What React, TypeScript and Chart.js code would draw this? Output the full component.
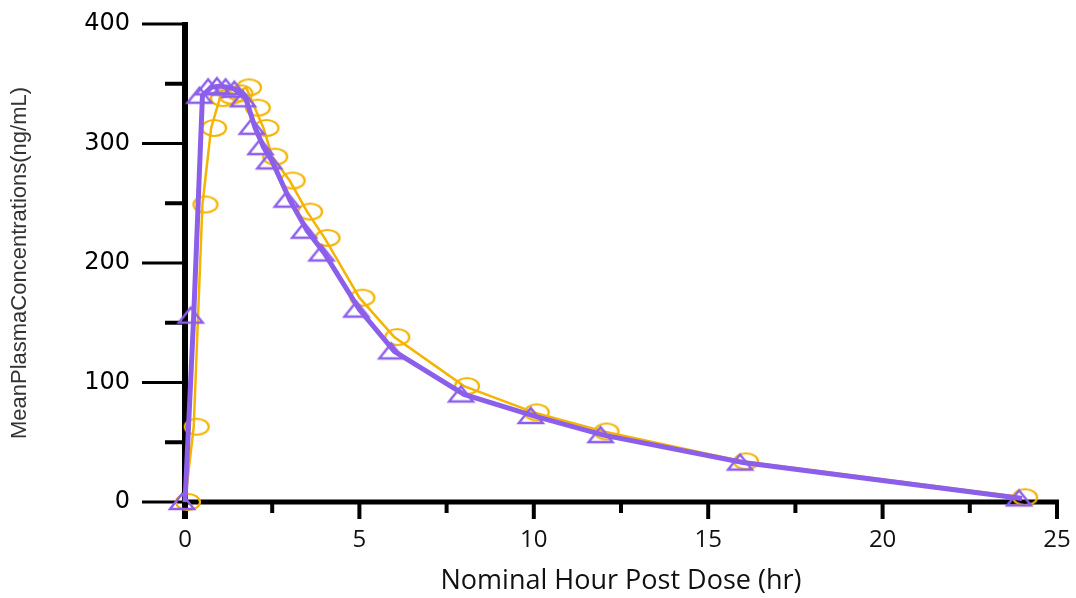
import React, { useEffect, useRef } from 'react';
import { Chart, registerables } from 'chart.js';

Chart.register(...registerables);

// Nominal sampling times (hr)
const TIMES = [0, 0.25, 0.5, 0.75, 1, 1.25, 1.5, 1.75, 2, 2.25, 2.5, 3, 3.5, 4, 5, 6, 8, 10, 12, 16, 24];
// Purple series (triangles)
const CONC_PURPLE = [0, 156, 340, 347, 348, 347, 345, 337, 314, 297, 285, 253, 227, 208, 161, 126, 90, 72, 56, 33, 3];
// Orange series (circles)
const CONC_ORANGE = [0, 63, 249, 313, 338, 340, 342, 347, 330, 313, 289, 269, 243, 221, 171, 138, 97, 75, 59, 34, 4];

const X_MIN = 0;
const X_MAX = 25;
const X_STEP = 5;
const Y_MIN = 0;
const Y_MAX = 400;
const Y_STEP = 100;

const X_TITLE = 'Nominal Hour Post Dose (hr)';
const Y_TITLE = 'MeanPlasmaConcentrations(ng/mL)';

const PURPLE = '#8C5FEA';
const ORANGE = '#F5B400';

function makeMarker(kind: 'circle' | 'triangle', color: string): HTMLCanvasElement {
  const c = document.createElement('canvas');
  c.width = 38;
  c.height = 28;
  const g = c.getContext('2d')!;
  g.strokeStyle = color;
  if (kind === 'circle') {
    g.lineWidth = 2.2;
    g.beginPath();
    g.ellipse(19 + 3, 14, 12, 8, 0, 0, Math.PI * 2);
    g.stroke();
  } else {
    g.lineWidth = 2.4;
    g.beginPath();
    g.moveTo(19 - 3, 14 - 8);
    g.lineTo(19 - 3 + 12, 14 + 7);
    g.lineTo(19 - 3 - 12, 14 + 7);
    g.closePath();
    g.stroke();
  }
  return c;
}

const axesPlugin = {
  id: 'customAxes',
  beforeDatasetsDraw(chart: any) {
    const { ctx, chartArea } = chart;
    const { left, right, top, bottom } = chartArea;
    const xs = chart.scales.x;
    const ys = chart.scales.y;
    ctx.save();
    ctx.strokeStyle = '#000';
    ctx.lineCap = 'butt';

    // y ticks
    const yVals = ys.ticks.map((t: any) => t.value);
    ctx.lineWidth = 3;
    yVals.forEach((v: number) => {
      const py = ys.getPixelForValue(v);
      ctx.beginPath();
      ctx.moveTo(left - 43, py);
      ctx.lineTo(left, py);
      ctx.stroke();
    });
    ctx.lineWidth = 4;
    for (let i = 0; i < yVals.length - 1; i++) {
      const py = ys.getPixelForValue((yVals[i] + yVals[i + 1]) / 2);
      ctx.beginPath();
      ctx.moveTo(left - 20, py);
      ctx.lineTo(left, py);
      ctx.stroke();
    }

    // x ticks
    const xVals = xs.ticks.map((t: any) => t.value);
    ctx.lineWidth = 4;
    xVals.forEach((v: number) => {
      const px = xs.getPixelForValue(v);
      ctx.beginPath();
      ctx.moveTo(px, bottom);
      ctx.lineTo(px, bottom + 17);
      ctx.stroke();
    });
    for (let i = 0; i < xVals.length - 1; i++) {
      const px = xs.getPixelForValue((xVals[i] + xVals[i + 1]) / 2);
      ctx.beginPath();
      ctx.moveTo(px, bottom);
      ctx.lineTo(px, bottom + 11);
      ctx.stroke();
    }

    // axis lines
    ctx.lineWidth = 5;
    ctx.beginPath();
    ctx.moveTo(left, bottom);
    ctx.lineTo(right + 2, bottom);
    ctx.stroke();
    ctx.lineWidth = 6;
    ctx.beginPath();
    ctx.moveTo(left, top - 2);
    ctx.lineTo(left, bottom + 17);
    ctx.stroke();

    ctx.restore();
  },
};

export default function App() {
  const canvasRef = useRef<HTMLCanvasElement | null>(null);

  useEffect(() => {
    if (!canvasRef.current) return;
    const triMarker = makeMarker('triangle', PURPLE);
    const circMarker = makeMarker('circle', ORANGE);

    const purpleData = TIMES.map((t, i) => ({ x: t, y: CONC_PURPLE[i] }));
    const orangeData = TIMES.map((t, i) => ({ x: t, y: CONC_ORANGE[i] }));

    const gridOpts = { drawOnChartArea: false, drawTicks: false, color: 'transparent' };

    const chart = new Chart(canvasRef.current, {
      type: 'line',
      data: {
        datasets: [
          {
            label: 'Purple',
            data: purpleData,
            borderColor: PURPLE,
            backgroundColor: PURPLE,
            borderWidth: 5,
            pointStyle: triMarker as any,
            pointRadius: 10,
            tension: 0,
            clip: false as any,
          },
          {
            label: 'Orange',
            data: orangeData,
            borderColor: ORANGE,
            backgroundColor: ORANGE,
            borderWidth: 2.5,
            pointStyle: circMarker as any,
            pointRadius: 10,
            tension: 0,
            clip: false as any,
          },
        ],
      },
      options: {
        animation: false,
        responsive: true,
        maintainAspectRatio: false,
        layout: { padding: { top: 24, right: 19, left: 0, bottom: 0 } },
        plugins: { legend: { display: false }, tooltip: { enabled: false } },
        scales: {
          x: {
            type: 'linear',
            min: X_MIN,
            max: X_MAX,
            ticks: {
              stepSize: X_STEP,
              padding: 24,
              maxRotation: 0,
              color: '#111',
              font: { family: 'Open Sans', size: 24 },
            },
            grid: gridOpts as any,
            border: { display: false },
            title: {
              display: true,
              text: X_TITLE,
              color: '#111',
              font: { family: 'Open Sans', size: 27 },
              padding: { top: 0, bottom: 0 },
            },
            afterFit(s: any) {
              s.height = 96;
              s.paddingLeft = 0;
              s.paddingRight = 0;
            },
          },
          y: {
            type: 'linear',
            min: Y_MIN,
            max: Y_MAX,
            ticks: {
              stepSize: Y_STEP,
              padding: 55,
              color: '#000',
              font: { family: 'DejaVu Sans', size: 24 },
            },
            grid: gridOpts as any,
            border: { display: false },
            title: {
              display: true,
              text: Y_TITLE,
              color: '#333',
              font: { family: 'Liberation Sans', size: 22 },
              padding: { top: 7, bottom: 0 },
            },
            afterFit(s: any) {
              s.width = 185;
              s.paddingTop = 0;
              s.paddingBottom = 0;
            },
          },
        },
      } as any,
      plugins: [axesPlugin],
    });

    return () => chart.destroy();
  }, []);

  return (
    <div style={{ position: 'absolute', left: 0, top: 0, width: 1076, height: 598, background: '#fff' }}>
      <canvas ref={canvasRef} />
    </div>
  );
}
